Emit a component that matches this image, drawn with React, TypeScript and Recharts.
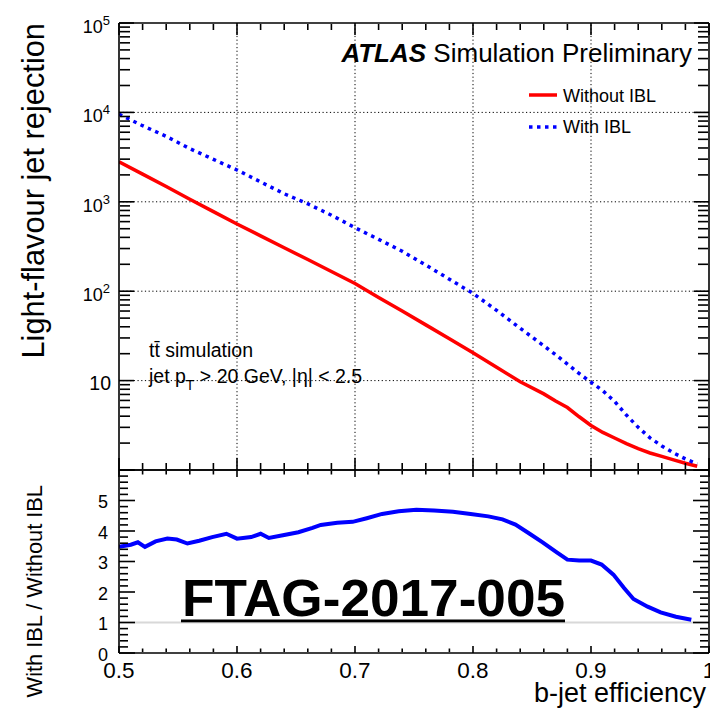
import React from "react";
import { LineChart, Line, XAxis, YAxis, ReferenceLine, Legend } from "recharts";

// b-jet efficiency points for the rejection curves
const efficiency = [
  0.5, 0.52, 0.54, 0.56, 0.58, 0.6, 0.62, 0.64, 0.66, 0.68, 0.7, 0.72, 0.74, 0.76, 0.78, 0.8,
  0.82, 0.84, 0.86, 0.87, 0.88, 0.89, 0.9, 0.91, 0.92, 0.93, 0.94, 0.95, 0.96, 0.97, 0.98, 0.99,
];
const withoutIBL = [
  2810, 2040, 1485, 1070, 776, 565, 416, 306, 226, 166, 122, 85, 60, 42, 29.4, 20.5,
  14.1, 9.7, 7.1, 5.9, 5.0, 3.94, 3.15, 2.63, 2.28, 1.97, 1.73, 1.55, 1.42, 1.3, 1.19, 1.1,
];
const withIBL = [
  9550, 7100, 5400, 3930, 2985, 2270, 1670, 1230, 950, 708, 513, 380, 280, 196, 136, 94.6,
  61, 38.5, 24.5, 19.5, 15.3, 12, 9.6, 7.7, 5.85, 4.12, 3.0, 2.29, 1.86, 1.55, 1.33, 1.17,
];

// ratio panel
const ratioEff = [
  0.5, 0.51, 0.516, 0.522, 0.531, 0.541, 0.549, 0.558, 0.568, 0.579, 0.591, 0.6, 0.612, 0.62,
  0.627, 0.64, 0.652, 0.664, 0.671, 0.685, 0.698, 0.71, 0.723, 0.737, 0.752, 0.767, 0.783,
  0.798, 0.813, 0.825, 0.836, 0.848, 0.859, 0.871, 0.88, 0.89, 0.9, 0.909, 0.919, 0.928,
  0.936, 0.948, 0.959, 0.972, 0.985,
];
const ratioValues = [
  3.48, 3.55, 3.63, 3.48, 3.66, 3.75, 3.72, 3.59, 3.68, 3.8, 3.91, 3.75, 3.8, 3.91, 3.77,
  3.87, 3.96, 4.1, 4.2, 4.27, 4.3, 4.42, 4.56, 4.65, 4.7, 4.67, 4.63, 4.56, 4.48, 4.38, 4.21,
  3.91, 3.63, 3.3, 3.06, 3.03, 3.03, 2.9, 2.57, 2.13, 1.77, 1.52, 1.33, 1.19, 1.09,
];

const legendOrder = ["Without IBL", "With IBL"];
const xMajor = [0.5, 0.6, 0.7, 0.8, 0.9, 1.0];
const xGrid = [0.6, 0.7, 0.8, 0.9];
const yGrid = [10, 100, 1000, 10000];
const decades = [1, 10, 100, 1000, 10000, 100000];
const ratioMajor = [0, 1, 2, 3, 4, 5, 6];
const ratioLabels = [0, 1, 2, 3, 4, 5];

// minor tick positions
const xMinor = Array.from({ length: 25 }, (_, i) => Math.round((0.5 + i * 0.02) * 100) / 100).filter(
  (v) => !xMajor.includes(v)
);
const logMinor = decades.slice(0, 5).flatMap((d) => [2, 3, 4, 5, 6, 7, 8, 9].map((m) => m * d));
const ratioMinor = Array.from({ length: 31 }, (_, i) => Math.round(i * 2) / 10).filter(
  (v) => !ratioMajor.includes(v)
);

const rejectionData = efficiency.map((eff, i) => ({
  eff,
  without: withoutIBL[i],
  with: withIBL[i],
}));
const ratioData = ratioEff.map((eff, i) => ({ eff, ratio: ratioValues[i] }));

const RED = "#ff0000";
const BLUE = "#0000ff";
const FONT = "'Liberation Sans', Arial, Helvetica, sans-serif";

const axisLine = { stroke: "#000", strokeWidth: 1.6 };
const tickLine = { stroke: "#000", strokeWidth: 1.6 };
const noLabel = () => <g />;

const xLabel = (props: any) => {
  const { x, y, payload } = props;
  const v = payload.value;
  return (
    <text x={x} y={y + 25} textAnchor="middle" fontSize={22.5} fill="#000">
      {v === 1 ? "1" : v.toFixed(1)}
    </text>
  );
};

const logLabel = (props: any) => {
  const { x, y, payload } = props;
  const exp = Math.round(Math.log10(payload.value));
  if (exp < 1) return <g />;
  if (exp === 1)
    return (
      <text x={x - 8} y={y + 9.5} textAnchor="end" fontSize={19.5} fill="#000">10</text>
    );
  return (
    <text x={x - 9} y={y + 10} textAnchor="end" fontSize={18} fill="#000">
      10<tspan dy={-8} fontSize={13}>{exp}</tspan>
    </text>
  );
};

const ratioLabel = (props: any) => {
  const { x, y, payload } = props;
  return (
    <text x={x - 11} y={y + 7.5} textAnchor="end" fontSize={18} fill="#000">{payload.value}</text>
  );
};

const renderLegend = (props: any) => {
  const items = [...(props.payload || [])].sort(
    (a: any, b: any) => legendOrder.indexOf(a.value) - legendOrder.indexOf(b.value)
  );
  return (
    <svg width={185} height={62} style={{ display: "block" }}>
      {items.map((entry: any, i: number) => (
        <g key={entry.value}>
          <line
            x1={4}
            x2={32}
            y1={15 + i * 32}
            y2={15 + i * 32}
            stroke={entry.color}
            strokeWidth={3.5}
            strokeDasharray={entry.value === "With IBL" ? "3.5 4.5" : undefined}
          />
          <text x={38} y={21.5 + i * 31} fontSize={18} fill="#000" fontFamily={FONT}>
            {entry.value}
          </text>
        </g>
      ))}
    </svg>
  );
};

export default function App() {
  const xCommon = { dataKey: "eff", type: "number" as const, domain: [0.5, 1], interval: 0 as const, allowDataOverflow: true, stroke: "#000" };
  const logCommon = { scale: "log" as const, type: "number" as const, domain: [1, 100000], interval: 0 as const, allowDataOverflow: true, stroke: "#000" };
  const ratioCommon = { type: "number" as const, domain: [0, 6], interval: 0 as const, allowDataOverflow: true, stroke: "#000" };

  return (
    <div
      style={{
        position: "absolute",
        left: 0,
        top: 0,
        width: 710,
        height: 714,
        overflow: "hidden",
        background: "#fff",
        fontFamily: FONT,
      }}
    >
      <div style={{ position: "absolute", left: 0, top: 0 }}>
        <LineChart width={710} height={480} data={rejectionData} margin={{ top: 23, right: 1, left: 0, bottom: 10 }}>
          <XAxis xAxisId="x" {...xCommon} mirror height={1} ticks={xMajor} tickSize={12} tickLine={tickLine} tick={noLabel} axisLine={axisLine} />
          <XAxis xAxisId="xm" {...xCommon} mirror height={1} ticks={xMinor} tickSize={6} tickLine={tickLine} tick={noLabel} axisLine={false} />
          <XAxis xAxisId="xt" orientation="top" {...xCommon} mirror height={1} ticks={xMajor} tickSize={12} tickLine={tickLine} tick={noLabel} axisLine={axisLine} />
          <XAxis xAxisId="xtm" orientation="top" {...xCommon} mirror height={1} ticks={xMinor} tickSize={6} tickLine={tickLine} tick={noLabel} axisLine={false} />
          <YAxis yAxisId="y" {...logCommon} width={119} ticks={decades} tickSize={0} tickMargin={0} tickLine={false} tick={logLabel} axisLine={axisLine} />
          <YAxis yAxisId="yM" {...logCommon} mirror width={1} ticks={decades} tickSize={15} tickLine={tickLine} tick={noLabel} axisLine={false} />
          <YAxis yAxisId="ym" {...logCommon} mirror width={1} ticks={logMinor} tickSize={10} tickLine={tickLine} tick={noLabel} axisLine={false} />
          <YAxis yAxisId="yr" orientation="right" {...logCommon} mirror width={1} ticks={decades} tickSize={15} tickLine={tickLine} tick={noLabel} axisLine={axisLine} />
          <YAxis yAxisId="yrm" orientation="right" {...logCommon} mirror width={1} ticks={logMinor} tickSize={10} tickLine={tickLine} tick={noLabel} axisLine={false} />
          {xGrid.map((v) => (
            <ReferenceLine key={"gx" + v} xAxisId="x" yAxisId="y" x={v} stroke="#000" strokeWidth={1} strokeDasharray="1.2 2.5" />
          ))}
          {yGrid.map((v) => (
            <ReferenceLine key={"gy" + v} xAxisId="x" yAxisId="y" y={v} stroke="#000" strokeWidth={1} strokeDasharray="1.2 2.5" />
          ))}
          <Line xAxisId="x" yAxisId="y" type="linear" dataKey="without" name="Without IBL" stroke={RED} strokeWidth={3.5}
            dot={false} isAnimationActive={false} />
          <Line xAxisId="x" yAxisId="y" type="linear" dataKey="with" name="With IBL" stroke={BLUE} strokeWidth={3.5}
            strokeDasharray="3.5 4.5" dot={false} isAnimationActive={false} />
          <Legend layout="vertical" align="center" verticalAlign="middle" content={renderLegend}
            wrapperStyle={{ left: 525, top: 80, width: 185, height: 62 }} />
        </LineChart>
      </div>

      <div style={{ position: "absolute", left: 0, top: 460 }}>
        <LineChart width={710} height={254} data={ratioData} margin={{ top: 10, right: 1, left: 0, bottom: 0 }}>
          <XAxis xAxisId="xl" {...xCommon} height={61} ticks={xMajor} tickSize={0} tickMargin={0} tickLine={false} tick={xLabel} axisLine={axisLine} />
          <XAxis xAxisId="x" {...xCommon} mirror height={1} ticks={xMajor} tickSize={7} tickLine={tickLine} tick={noLabel} axisLine={false} />
          <XAxis xAxisId="xm" {...xCommon} mirror height={1} ticks={xMinor} tickSize={3.5} tickLine={tickLine} tick={noLabel} axisLine={false} />
          <XAxis xAxisId="xt" orientation="top" {...xCommon} mirror height={1} ticks={xMajor} tickSize={7} tickLine={tickLine} tick={noLabel} axisLine={axisLine} />
          <XAxis xAxisId="xtm" orientation="top" {...xCommon} mirror height={1} ticks={xMinor} tickSize={3.5} tickLine={tickLine} tick={noLabel} axisLine={false} />
          <YAxis yAxisId="y" {...ratioCommon} width={119} ticks={ratioLabels} tickSize={0} tickMargin={0} tickLine={false} tick={ratioLabel} axisLine={axisLine} />
          <YAxis yAxisId="yM" {...ratioCommon} mirror width={1} ticks={ratioMajor} tickSize={16} tickLine={tickLine} tick={noLabel} axisLine={false} />
          <YAxis yAxisId="ym" {...ratioCommon} mirror width={1} ticks={ratioMinor} tickSize={8} tickLine={tickLine} tick={noLabel} axisLine={false} />
          <YAxis yAxisId="yr" orientation="right" {...ratioCommon} mirror width={1} ticks={ratioMajor} tickSize={16} tickLine={tickLine} tick={noLabel} axisLine={axisLine} />
          <YAxis yAxisId="yrm" orientation="right" {...ratioCommon} mirror width={1} ticks={ratioMinor} tickSize={8} tickLine={tickLine} tick={noLabel} axisLine={false} />
          <ReferenceLine xAxisId="xl" yAxisId="y" y={1} stroke="#d8d8d8" strokeWidth={2} />
          <Line xAxisId="xl" yAxisId="y" type="linear" dataKey="ratio" name="With IBL / Without IBL" stroke={BLUE}
            strokeWidth={4} dot={false} isAnimationActive={false} />
        </LineChart>
      </div>

      <svg width={710} height={714} style={{ position: "absolute", left: 0, top: 0, pointerEvents: "none" }} fontFamily={FONT}>
        <text x={692} y={62} textAnchor="end" fontSize={26} fill="#000">
          <tspan fontWeight="bold" fontStyle="italic">ATLAS</tspan>
          <tspan> Simulation Preliminary</tspan>
        </text>
        <text x={149} y={357} fontSize={19.5} fill="#000">
          {"tt\u0304 simulation"}
        </text>
        <text x={149} y={383} fontSize={19.5} fill="#000">
          jet p<tspan dy={7} fontSize={14}>T</tspan>
          <tspan dy={-7}>{" > 20 GeV, |\u03b7| < 2.5"}</tspan>
        </text>
        <text x={182} y={615.5} fontSize={52.5} fontWeight="bold" fill="#000" textLength={383} lengthAdjust="spacingAndGlyphs">
          FTAG-2017-005
        </text>
        <rect x={181} y={619.5} width={384} height={2.8} fill="#000" />
        <text x={43.5} y={23} transform="rotate(-90 43.5 23)" textAnchor="end" fontSize={30.8} fill="#000">
          Light-flavour jet rejection
        </text>
        <text x={42} y={485} transform="rotate(-90 42 485)" textAnchor="end" fontSize={21.8} fill="#000">
          With IBL / Without IBL
        </text>
        <text x={706} y={702} textAnchor="end" fontSize={27} fill="#000">
          b-jet efficiency
        </text>
      </svg>
    </div>
  );
}
